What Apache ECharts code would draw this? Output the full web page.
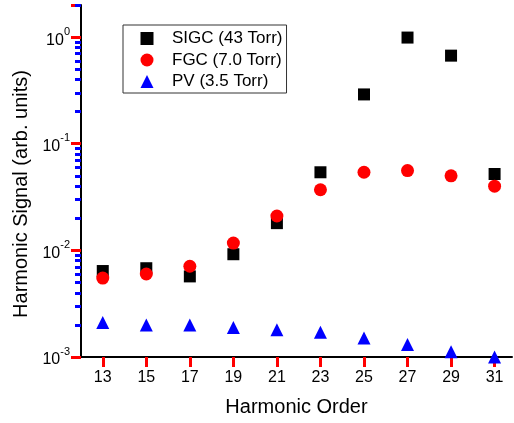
<!DOCTYPE html>
<html>
<head>
<meta charset="utf-8">
<script src="https://cdn.jsdelivr.net/npm/echarts@6/dist/echarts.min.js"></script>
<style>
  html, body { margin: 0; padding: 0; background: #fff; }
  #chart { width: 514px; height: 423px; }
</style>
</head>
<body>
<div id="chart"></div>
<script>
// harmonic orders (x)
const orders = [13, 15, 17, 19, 21, 23, 25, 27, 29, 31]

// signal values (log scale)
const sigc = [0.0064, 0.0068, 0.0057, 0.0092, 0.018, 0.054, 0.29, 0.99, 0.67, 0.052]
const fgc = [0.0055, 0.0060, 0.0071, 0.0117, 0.021, 0.037, 0.054, 0.056, 0.050, 0.040]
const pv = [0.00211, 0.00200, 0.00200, 0.00189, 0.00180, 0.00171, 0.00151, 0.00131, 0.00112, 0.00100]

const seriesNames = ['SIGC (43 Torr)', 'FGC (7.0 Torr)', 'PV (3.5 Torr)']

// tick labels
const xTicks = [13, 15, 17, 19, 21, 23, 25, 27, 29, 31]
const yMinorTicks = [
  0.002, 0.003, 0.004, 0.005, 0.006, 0.007, 0.008, 0.009,
  0.02, 0.03, 0.04, 0.05, 0.06, 0.07, 0.08, 0.09,
  0.2, 0.3, 0.4, 0.5, 0.6, 0.7, 0.8, 0.9, 2
]

const X_MIN = 12
const X_MAX = 31.8
const Y_MIN = 0.001
const Y_MAX = 2
const FONT = 'Liberation Sans, Arial, sans-serif'

const toPoints = (vals) => orders.map((x, i) => [x, vals[i]])

const chart = echarts.init(document.getElementById('chart'))

const logLabel = (v) => {
  const l = Math.log10(v)
  const n = Math.round(l)
  if (Math.abs(l - n) > 1e-6) return ''
  return '{b|10}{s|' + n + '}'
}

const option = {
  animation: false,
  grid: { left: 81, top: 5, right: 2, bottom: 66 },
  legend: {
    orient: 'vertical',
    left: 123,
    top: 25,
    padding: [5, 4, 3, 17.5],
    itemWidth: 13,
    itemHeight: 13,
    itemGap: 4.5,
    borderColor: '#333',
    borderWidth: 1,
    textStyle: { fontFamily: FONT, fontSize: 17, color: '#000', lineHeight: 16, padding: [0, 0, 0, 13.5] },
    data: seriesNames
  },
  xAxis: {
    type: 'value',
    min: X_MIN,
    max: X_MAX,
    name: 'Harmonic Order',
    nameLocation: 'middle',
    nameGap: 40,
    nameTextStyle: { fontFamily: FONT, fontSize: 20, color: '#000' },
    axisLine: { show: true, onZero: false, lineStyle: { color: '#000', width: 2 } },
    axisTick: { show: true, length: 10, lineStyle: { color: 'red', width: 3 }, customValues: xTicks },
    axisLabel: { fontFamily: FONT, fontSize: 16, color: '#000', margin: 13, customValues: xTicks },
    splitLine: { show: false }
  },
  yAxis: [
    {
      type: 'log',
      logBase: 10,
      min: Y_MIN,
      max: Y_MAX,
      name: 'Harmonic Signal (arb. units)',
      nameLocation: 'middle',
      nameGap: 44,
      nameRotate: 90,
      nameTextStyle: { fontFamily: FONT, fontSize: 20, color: '#000', padding: [0, 26, 0, 0] },
      axisLine: { show: true, lineStyle: { color: '#000', width: 2 } },
      axisTick: { show: true, length: 10, lineStyle: { color: 'red', width: 3 } },
      axisLabel: {
        margin: 11,
        formatter: logLabel,
        rich: {
          b: { fontFamily: FONT, fontSize: 16, color: '#000', verticalAlign: 'bottom', lineHeight: 22 },
          s: { fontFamily: FONT, fontSize: 11, color: '#000', verticalAlign: 'top', lineHeight: 22 }
        }
      },
      splitLine: { show: false }
    },
    {
      // minor log ticks, drawn on a linear axis spanning log10 of the same range
      type: 'value',
      min: Math.log10(Y_MIN),
      max: Math.log10(Y_MAX),
      position: 'left',
      axisLine: { show: false, onZero: false },
      axisTick: { show: true, length: 6, lineStyle: { color: 'blue', width: 3 }, customValues: yMinorTicks.map(Math.log10) },
      axisLabel: { show: false },
      splitLine: { show: false }
    }
  ],
  series: [
    {
      name: seriesNames[0],
      type: 'scatter',
      symbol: 'rect',
      symbolSize: 12,
      itemStyle: { color: '#000', opacity: 1 },
      data: toPoints(sigc)
    },
    {
      name: seriesNames[1],
      type: 'scatter',
      symbol: 'circle',
      symbolSize: 13,
      itemStyle: { color: '#ff0000', opacity: 1 },
      data: toPoints(fgc)
    },
    {
      name: seriesNames[2],
      type: 'scatter',
      symbol: 'triangle',
      symbolSize: 13,
      itemStyle: { color: '#0000ff', opacity: 1 },
      data: toPoints(pv)
    }
  ]
}

chart.setOption(option)
</script>
</body>
</html>
